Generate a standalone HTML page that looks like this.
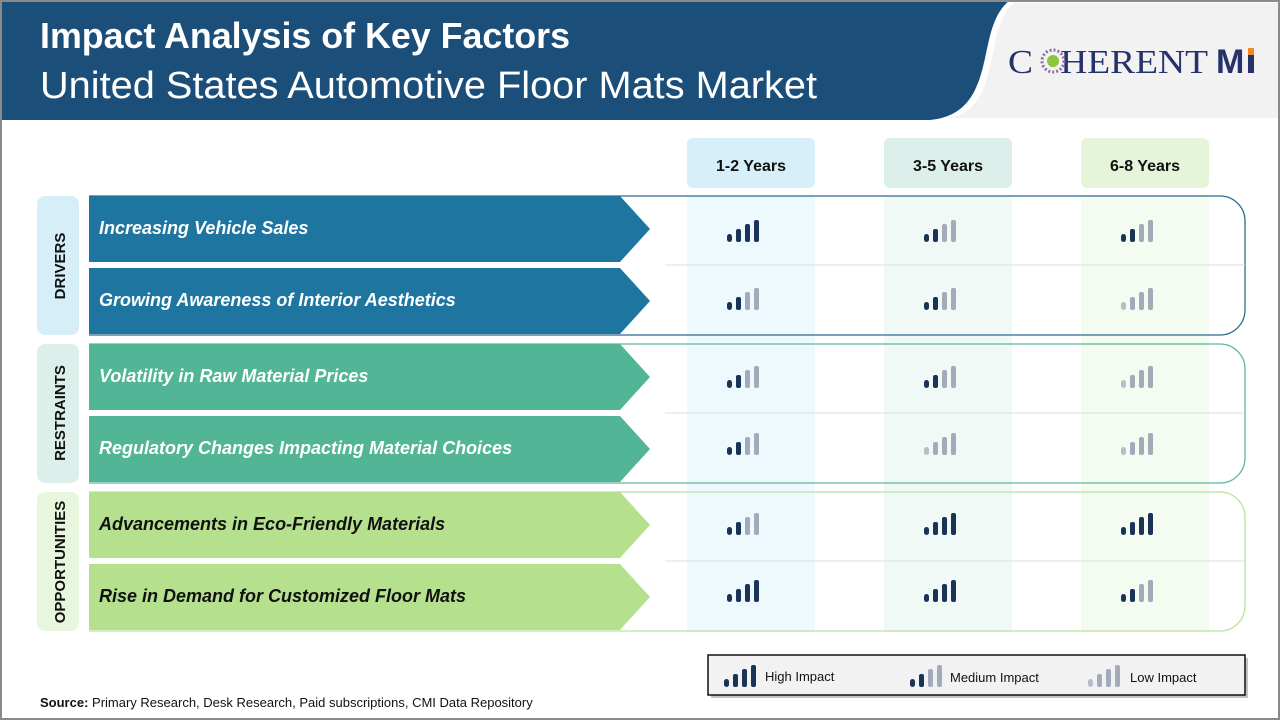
<!DOCTYPE html>
<html><head><meta charset="utf-8"><style>
html,body{margin:0;padding:0;background:#fff}
svg{display:block}
</style></head><body>
<svg width="1280" height="720" viewBox="0 0 1280 720" xmlns="http://www.w3.org/2000/svg" font-family="Liberation Sans, sans-serif">
<defs>
<g id="H"><rect x="0" y="14" width="5" height="8" rx="2.5" fill="#1a3458"/><rect x="9" y="9" width="5" height="13" rx="2" fill="#1a3458"/><rect x="18" y="4" width="5" height="18" rx="2" fill="#1a3458"/><rect x="27" y="0" width="5" height="22" rx="2" fill="#1a3458"/></g>
<g id="M"><rect x="0" y="14" width="5" height="8" rx="2.5" fill="#1a3458"/><rect x="9" y="9" width="5" height="13" rx="2" fill="#1a3458"/><rect x="18" y="4" width="5" height="18" rx="2" fill="#a3abba"/><rect x="27" y="0" width="5" height="22" rx="2" fill="#a3abba"/></g>
<g id="L"><rect x="0" y="14" width="5" height="8" rx="2.5" fill="#b8bec8"/><rect x="9" y="9" width="5" height="13" rx="2" fill="#a3abba"/><rect x="18" y="4" width="5" height="18" rx="2" fill="#a3abba"/><rect x="27" y="0" width="5" height="22" rx="2" fill="#a3abba"/></g>
</defs>
<rect x="0" y="0" width="1280" height="720" fill="#fff"/>
<rect x="0" y="0" width="1280" height="120" fill="#1b4f7a"/>
<path d="M1010 0 C985 20 990 60 975 90 C965 110 950 118 930 120 L1280 120 L1280 0 Z" fill="#fff"/>
<path d="M1014 3 C992 22 996 60 982 92 C973 110 960 117 948 118 L1278 118 L1278 3 Z" fill="#f2f2f2"/>
<text x="40" y="48" font-size="36" font-weight="bold" fill="#fff" textLength="530" lengthAdjust="spacingAndGlyphs">Impact Analysis of Key Factors</text>
<text x="40" y="98" font-size="38" fill="#fff" textLength="777" lengthAdjust="spacingAndGlyphs">United States Automotive Floor Mats Market</text>
<text x="1008" y="73" style="font-family:'Liberation Serif',serif" font-size="34" fill="#26336b" textLength="200" lengthAdjust="spacingAndGlyphs">C<tspan fill="#f2f2f2">O</tspan>HERENT</text>
<g transform="translate(1053,61)">
<circle r="11" fill="none" stroke="#8a6fa8" stroke-width="3" stroke-dasharray="2 2"/>
<circle r="6" fill="#8cc63f"/>
</g>
<text x="1216" y="73" font-size="34" font-weight="bold" fill="#26336b">M</text>
<rect x="1248" y="48" width="6" height="25" fill="#26336b"/><rect x="1248" y="48" width="6" height="7" fill="#f08a24"/>
<rect x="1" y="1" width="1278" height="718" fill="none" stroke="#8a8a8a" stroke-width="2"/>
<rect x="687" y="138" width="128" height="50" rx="6" fill="#d6eff9"/>
<rect x="884" y="138" width="128" height="50" rx="6" fill="#dcefeb"/>
<rect x="1081" y="138" width="128" height="50" rx="6" fill="#e6f5da"/>
<rect x="687" y="196" width="128" height="436" fill="#eef9fd"/>
<rect x="884" y="196" width="128" height="436" fill="#f1f9f6"/>
<rect x="1081" y="196" width="128" height="436" fill="#f4fbf0"/>
<text x="751" y="171" font-size="16" font-weight="bold" fill="#111" text-anchor="middle">1-2 Years</text>
<text x="948" y="171" font-size="16" font-weight="bold" fill="#111" text-anchor="middle">3-5 Years</text>
<text x="1145" y="171" font-size="16" font-weight="bold" fill="#111" text-anchor="middle">6-8 Years</text>
<path d="M89 196 H1220 a25 25 0 0 1 25 25 V310 a25 25 0 0 1 -25 25 H89" fill="none" stroke="#2d6a8f" stroke-width="1.3"/>
<path d="M89 344 H1220 a25 25 0 0 1 25 25 V458 a25 25 0 0 1 -25 25 H89" fill="none" stroke="#5cb79c" stroke-width="1.3"/>
<path d="M89 492 H1220 a25 25 0 0 1 25 25 V606 a25 25 0 0 1 -25 25 H89" fill="none" stroke="#b9e39a" stroke-width="1.3"/>
<line x1="665" y1="265" x2="1245" y2="265" stroke="#ddd"/>
<line x1="665" y1="413" x2="1245" y2="413" stroke="#ddd"/>
<line x1="665" y1="561" x2="1245" y2="561" stroke="#ddd"/>
<rect x="37" y="196" width="42" height="139" rx="8" fill="#d6eef8"/>
<rect x="37" y="344" width="42" height="139" rx="8" fill="#dcefea"/>
<rect x="37" y="492" width="42" height="139" rx="8" fill="#e7f6dc"/>
<text transform="translate(65,266) rotate(-90)" font-size="15" font-weight="bold" fill="#111" text-anchor="middle">DRIVERS</text>
<text transform="translate(65,413) rotate(-90)" font-size="15" font-weight="bold" fill="#111" text-anchor="middle">RESTRAINTS</text>
<text transform="translate(65,562) rotate(-90)" font-size="15" font-weight="bold" fill="#111" text-anchor="middle">OPPORTUNITIES</text>
<path d="M89 196 H620 L650 229 L620 262 H89 Z" fill="#1e76a0"/>
<path d="M89 268 H620 L650 301 L620 334 H89 Z" fill="#1e76a0"/>
<path d="M89 344 H620 L650 377 L620 410 H89 Z" fill="#52b596"/>
<path d="M89 416 H620 L650 449 L620 482 H89 Z" fill="#52b596"/>
<path d="M89 492 H620 L650 525 L620 558 H89 Z" fill="#b5e18e"/>
<path d="M89 564 H620 L650 597 L620 630 H89 Z" fill="#b5e18e"/>
<g font-size="18" font-weight="bold" font-style="italic">
<text x="99" y="234" fill="#fff">Increasing Vehicle Sales</text>
<text x="99" y="306" fill="#fff">Growing Awareness of Interior Aesthetics</text>
<text x="99" y="382" fill="#fff">Volatility  in Raw Material Prices</text>
<text x="99" y="454" fill="#fff">Regulatory Changes Impacting Material Choices</text>
<text x="99" y="530" fill="#111">Advancements in Eco-Friendly Materials</text>
<text x="99" y="602" fill="#111">Rise in Demand for Customized Floor Mats</text>
</g>
<use href="#H" x="727" y="220"/><use href="#M" x="924" y="220"/><use href="#M" x="1121" y="220"/>
<use href="#M" x="727" y="288"/><use href="#M" x="924" y="288"/><use href="#L" x="1121" y="288"/>
<use href="#M" x="727" y="366"/><use href="#M" x="924" y="366"/><use href="#L" x="1121" y="366"/>
<use href="#M" x="727" y="433"/><use href="#L" x="924" y="433"/><use href="#L" x="1121" y="433"/>
<use href="#M" x="727" y="513"/><use href="#H" x="924" y="513"/><use href="#H" x="1121" y="513"/>
<use href="#H" x="727" y="580"/><use href="#H" x="924" y="580"/><use href="#M" x="1121" y="580"/>
<rect x="711" y="658" width="537" height="40" fill="#888" opacity="0.5"/>
<rect x="708" y="655" width="537" height="40" fill="#f2f2f2" stroke="#111" stroke-width="1.5"/>
<use href="#H" x="724" y="665"/>
<text x="765" y="681" font-size="13" fill="#111">High Impact</text>
<use href="#M" x="910" y="665"/>
<text x="950" y="682" font-size="13" fill="#111">Medium Impact</text>
<use href="#L" x="1088" y="665"/>
<text x="1130" y="682" font-size="13" fill="#111">Low Impact</text>
<text x="40" y="707" font-size="13" fill="#111"><tspan font-weight="bold">Source:</tspan> Primary Research, Desk Research, Paid subscriptions, CMI Data Repository</text>
</svg>
</body></html>
